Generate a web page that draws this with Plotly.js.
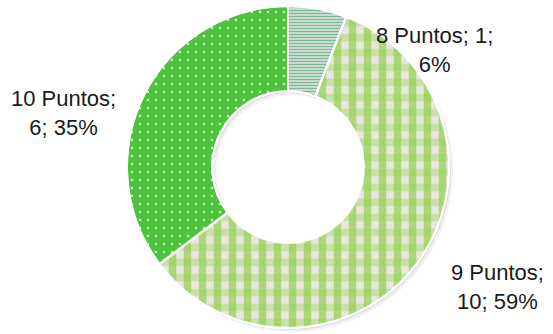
<!DOCTYPE html>
<html>
<head>
<meta charset="utf-8">
<script src="https://cdn.plot.ly/plotly-3.0.1.min.js"></script>
<style>html,body{margin:0;padding:0;background:#fff;}#chart{width:553px;height:334px;}</style>
</head>
<body>
<div id="chart"></div>
<script>
const categories = ["8 Puntos", "9 Puntos", "10 Puntos"];
const counts = [1, 10, 6];
const percentLabels = ["6%", "59%", "35%"];

const total = counts.reduce((a, b) => a + b, 0);
const cx = 288 / 553, cy = 1 - 167 / 334, rx = 161 / 553, ry = 161 / 334;
const dom = (dx, dy) => ({
  x: [cx - rx + dx / 553, cx + rx + dx / 553],
  y: [cy - ry - dy / 334, cy + ry - dy / 334]
});

const shadow = (d, a) => ({
  type: 'pie', values: [total], labels: ['s'], hole: 0.47, sort: false,
  domain: dom(d, d), textinfo: 'none', hoverinfo: 'skip', showlegend: false,
  marker: {colors: ['rgba(0,0,0,' + a + ')'], line: {width: 0}}
});

const base = {
  type: 'pie', values: counts, labels: categories, hole: 0.47, sort: false,
  direction: 'clockwise', rotation: 0, domain: dom(0, 0), textinfo: 'none',
  showlegend: false,
  marker: {
    colors: ['#d6e2dc', '#e6e7de', '#4dc23d'],
    line: {color: '#ffffff', width: 2},
    pattern: {
      shape: ['-', '|', '.'],
      fgcolor: ['#7fb797', 'rgba(150,210,80,0.72)', 'rgba(255,255,255,0.75)'],
      bgcolor: ['#d6e2dc', '#e6e7de', '#4dc23d'],
      size: [3, 15, 8],
      solidity: [0.45, 0.5, 0.08],
      fillmode: 'replace'
    }
  }
};

const overlay = {
  type: 'pie', values: counts, labels: categories, hole: 0.47, sort: false,
  direction: 'clockwise', rotation: 0, domain: dom(0, 0), textinfo: 'none',
  showlegend: false, hoverinfo: 'skip',
  marker: {
    colors: ['rgba(0,0,0,0)', 'rgba(0,0,0,0)', 'rgba(0,0,0,0)'],
    line: {color: '#ffffff', width: 2},
    pattern: {
      shape: ['', '-', ''],
      fgcolor: ['rgba(0,0,0,0)', 'rgba(150,210,80,0.72)', 'rgba(0,0,0,0)'],
      bgcolor: ['rgba(0,0,0,0)', 'rgba(0,0,0,0)', 'rgba(0,0,0,0)'],
      size: [3, 15, 8],
      solidity: [0.5, 0.5, 0.5],
      fillmode: 'overlay'
    }
  }
};

const labelPos = [
  {x: 434 / 553, y: 1 - 50 / 334},
  {x: 497 / 553, y: 1 - 287 / 334},
  {x: 63 / 553, y: 1 - 113 / 334}
];
const labelText = [
  categories[0] + '; ' + counts[0] + ';<br>' + percentLabels[0],
  categories[1] + ';<br>' + counts[1] + '; ' + percentLabels[1],
  categories[2] + ';<br>' + counts[2] + '; ' + percentLabels[2]
];

const annotations = labelText.map((t, i) => ({
  text: t, x: labelPos[i].x, y: labelPos[i].y, xref: 'paper', yref: 'paper',
  showarrow: false, xanchor: 'center', yanchor: 'middle', align: 'center',
  font: {family: 'Liberation Sans, Arial, sans-serif', size: 22, color: '#1a1a1a'}
}));

Plotly.newPlot('chart', [shadow(4, 0.05), shadow(2, 0.08), base, overlay], {
  width: 553, height: 334,
  margin: {l: 0, r: 0, t: 0, b: 0},
  paper_bgcolor: '#ffffff', plot_bgcolor: '#ffffff',
  annotations: annotations
}, {staticPlot: true});
</script>
</body>
</html>
